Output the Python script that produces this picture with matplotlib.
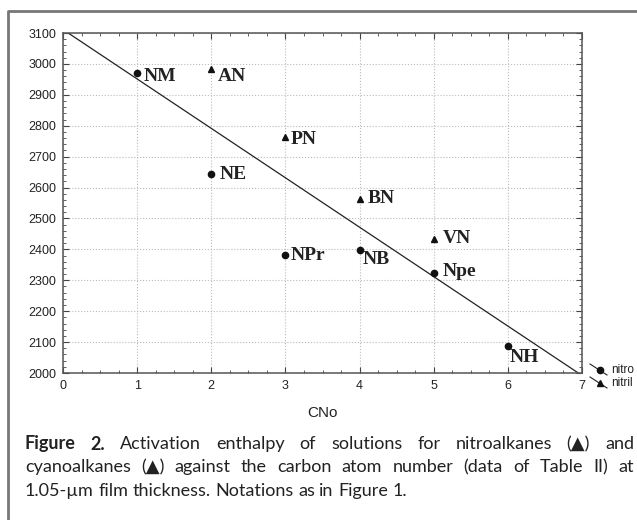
import numpy as np
import matplotlib.pyplot as plt
from matplotlib.lines import Line2D
from matplotlib.ticker import MultipleLocator

# data
nitro_c = [1, 2, 3, 4, 5, 6]
nitro_h = [2970, 2645, 2382, 2398, 2324, 2087]
nitro_lbl = ['NM', 'NE', 'NPr', 'NB', 'Npe', 'NH']
nitril_c = [2, 3, 4, 5]
nitril_h = [2985, 2763, 2563, 2434]
nitril_lbl = ['AN', 'PN', 'BN', 'VN']
fit_c = [0.07, 6.95]
fit_h = [3100, 2000]

# label offsets in pixels (dx, dy)
nitro_off = [(6, -3), (8, -1), (5, -1), (3, -10), (9, 1), (2, -11)]
nitril_off = [(7, -8), (5, -2), (8, 0), (9, 0)]

plt.rcParams['font.family'] = ['Liberation Sans', 'DejaVu Sans']

fig = plt.figure(figsize=(6.37, 5.20), dpi=100)
ax = fig.add_axes([63 / 637, 1 - 373 / 520, 519 / 637, 340 / 520])

ax.plot(fit_c, fit_h, color='#222222', lw=0.9)
ax.plot(nitro_c, nitro_h, 'o', color='#111111', ms=4.5, ls='none')
ax.plot(nitril_c, nitril_h, '^', color='#111111', ms=4.5, ls='none')

for x, y, s, o in zip(nitro_c, nitro_h, nitro_lbl, nitro_off):
    ax.annotate(s, (x, y), xytext=o, textcoords='offset pixels',
                family='Liberation Serif', weight='bold', fontsize=14,
                va='center', ha='left', color='#222222')
for x, y, s, o in zip(nitril_c, nitril_h, nitril_lbl, nitril_off):
    ax.annotate(s, (x, y), xytext=o, textcoords='offset pixels',
                family='Liberation Serif', weight='bold', fontsize=14,
                va='center', ha='left', color='#222222')

ax.set_xlim(0, 7)
ax.set_ylim(2000, 3100)
ax.xaxis.set_major_locator(MultipleLocator(1))
ax.xaxis.set_minor_locator(MultipleLocator(0.25))
ax.yaxis.set_major_locator(MultipleLocator(100))
ax.yaxis.set_minor_locator(MultipleLocator(20))
ax.tick_params(which='both', direction='in', top=True, right=True,
               colors='#444444', labelcolor='#222222', labelsize=9)
ax.tick_params(which='major', length=4, width=0.8, pad=5)
ax.tick_params(which='minor', length=2, width=0.6)
ax.grid(True, which='major', color='#bbbbbb', ls=':', lw=0.8)
for sp in ax.spines.values():
    sp.set_color('#555555')
    sp.set_linewidth(1.1)
ax.set_xlabel('CNo', fontsize=11, color='#222222', labelpad=10)

# legend handles (diagonal, drawn outside the axes)
def fp(px, py):
    return px / 637, 1 - py / 520

for py, mk, lab in [(370, 'o', 'nitro'), (383, '^', 'nitril')]:
    x0, y0 = fp(590, py - 6)
    x1, y1 = fp(607, py + 5)
    fig.add_artist(Line2D([x0, x1], [y0, y1], color='#222222', lw=0.8))
    mx, my = fp(600, py)
    fig.add_artist(Line2D([mx], [my], marker=mk, ms=4.5, color='#111111'))
    tx, ty = fp(611, py)
    fig.text(tx, ty, lab, fontsize=8.5, va='center', ha='left', color='#222222')

# figure frame
x0, y0 = fp(8, 520)
x1, y1 = fp(8, 11)
x2, _ = fp(637, 11)
fig.add_artist(Line2D([x0, x1, x2], [y0, y1, y1], color='#777777', lw=2))

# caption, justified
cap_font = ['Lato', 'DejaVu Sans']
cap_size = 13
lines = [
    [('Figure', 'bold'), ('2.', 'bold'), ('Activation', 'normal'), ('enthalpy', 'normal'),
     ('of', 'normal'), ('solutions', 'normal'), ('for', 'normal'), ('nitroalkanes', 'normal'),
     ('(\u25b2)', 'normal'), ('and', 'normal')],
    [(w, 'normal') for w in 'cyanoalkanes (\u25b2) against the carbon atom number (data of Table II) at'.split()],
    [(w, 'normal') for w in '1.05-\u00b5m film thickness. Notations as in Figure 1.'.split()],
]
line_y = [444, 467, 491]
left, right = 25, 634
fig.canvas.draw()
renderer = fig.canvas.get_renderer()
for li, (words, py) in enumerate(zip(lines, line_y)):
    texts = []
    for w, wt in words:
        t = fig.text(0, fp(0, py)[1], w, family=cap_font, weight=wt, fontsize=cap_size,
                     va='center', ha='left', color='#222222')
        texts.append(t)
    widths = [t.get_window_extent(renderer).width for t in texts]
    if li < 2:
        gap = (right - left - sum(widths)) / (len(texts) - 1)
    else:
        gap = 0.25 * cap_size * 100 / 72
    x = left
    for t, w in zip(texts, widths):
        t.set_x(x / 637)
        x += w + gap

fig.savefig('out.png', dpi=100)
